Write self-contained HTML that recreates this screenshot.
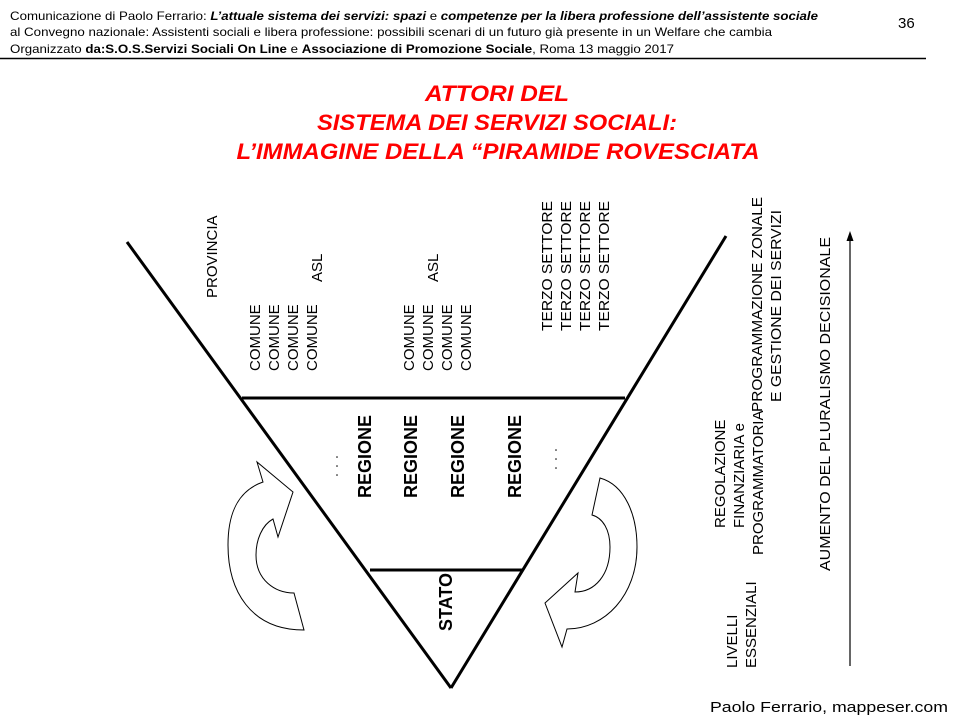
<!DOCTYPE html>
<html><head><meta charset="utf-8"><style>
html,body{margin:0;padding:0;background:#fff;}
svg{display:block;}
text{font-family:"Liberation Sans",Arial,sans-serif;}
</style></head><body>
<svg width="960" height="720" viewBox="0 0 960 720" xmlns="http://www.w3.org/2000/svg">
<rect width="960" height="720" fill="#fff"/>
<g font-size="12" fill="#000">
<text x="10" y="20" textLength="808" lengthAdjust="spacingAndGlyphs">Comunicazione di Paolo Ferrario: <tspan font-weight="bold" font-style="italic">L’attuale sistema  dei servizi: spazi</tspan> e <tspan font-weight="bold" font-style="italic">competenze per la libera professione  dell’assistente  sociale</tspan></text>
<text x="10" y="36" textLength="762" lengthAdjust="spacingAndGlyphs">al Convegno  nazionale: Assistenti sociali e libera professione:  possibili scenari di un futuro già presente in un Welfare  che cambia</text>
<text x="10" y="53" textLength="664" lengthAdjust="spacingAndGlyphs">Organizzato <tspan font-weight="bold">da:S.O.S.Servizi Sociali On Line</tspan> e <tspan font-weight="bold">Associazione di Promozione Sociale</tspan>, Roma 13 maggio 2017</text>
</g>
<text x="898" y="28" font-size="15">36</text>
<line x1="0" y1="58.5" x2="926" y2="58.5" stroke="#000" stroke-width="1.5"/>
<g fill="#ff0000" font-weight="bold" font-style="italic" font-size="22" text-anchor="middle">
<text x="497" y="101" textLength="144" lengthAdjust="spacingAndGlyphs">ATTORI DEL</text>
<text x="497" y="130" textLength="360" lengthAdjust="spacingAndGlyphs">SISTEMA DEI SERVIZI SOCIALI:</text>
<text x="498" y="159" textLength="523" lengthAdjust="spacingAndGlyphs">L’IMMAGINE DELLA “PIRAMIDE ROVESCIATA</text>
</g>
<g stroke="#000" stroke-width="3" fill="none">
<line x1="127" y1="242" x2="451" y2="688"/>
<line x1="726" y1="236" x2="451" y2="688"/>
<line x1="242" y1="398" x2="625" y2="398"/>
<line x1="370" y1="570" x2="522" y2="570"/>
</g>
<g stroke="#000" stroke-width="1" fill="#fff">
<path d="M304,630 C250,630 228,590 228,545 C228,510 240,490 263,482 L257,462 L293,492 L278,537 L273,519 C262,525 256,540 256,555 C256,580 275,593 294,593 Z"/>
<path d="M600,478 C625,485 637,515 637,547 C637,595 605,629 567,629 L562,647 L545,603 L578,573 L575,592 C595,592 610,575 610,547 C610,530 603,518 592,515 Z"/>
</g>
<g font-size="15" fill="#000">
<text transform="translate(217,298) rotate(-90)">PROVINCIA</text>
<text transform="translate(260,371) rotate(-90)">COMUNE</text>
<text transform="translate(279,371) rotate(-90)">COMUNE</text>
<text transform="translate(298,371) rotate(-90)">COMUNE</text>
<text transform="translate(317,371) rotate(-90)">COMUNE</text>
<text transform="translate(322,282) rotate(-90)">ASL</text>
<text transform="translate(414,371) rotate(-90)">COMUNE</text>
<text transform="translate(433,371) rotate(-90)">COMUNE</text>
<text transform="translate(452,371) rotate(-90)">COMUNE</text>
<text transform="translate(471,371) rotate(-90)">COMUNE</text>
<text transform="translate(438,282) rotate(-90)">ASL</text>
<text transform="translate(552,331) rotate(-90)" textLength="130" lengthAdjust="spacingAndGlyphs">TERZO  SETTORE</text>
<text transform="translate(571,331) rotate(-90)" textLength="130" lengthAdjust="spacingAndGlyphs">TERZO  SETTORE</text>
<text transform="translate(590,331) rotate(-90)" textLength="130" lengthAdjust="spacingAndGlyphs">TERZO  SETTORE</text>
<text transform="translate(609,331) rotate(-90)" textLength="130" lengthAdjust="spacingAndGlyphs">TERZO  SETTORE</text>
<text transform="translate(762,412) rotate(-90)" textLength="215" lengthAdjust="spacingAndGlyphs">PROGRAMMAZIONE  ZONALE</text>
<text transform="translate(781,402) rotate(-90)" textLength="192" lengthAdjust="spacingAndGlyphs">E GESTIONE  DEI SERVIZI</text>
<text transform="translate(725,528) rotate(-90)">REGOLAZIONE</text>
<text transform="translate(744,528) rotate(-90)">FINANZIARIA  e</text>
<text transform="translate(763,555) rotate(-90)">PROGRAMMATORIA</text>
<text transform="translate(737,668) rotate(-90)">LIVELLI</text>
<text transform="translate(756,668) rotate(-90)">ESSENZIALI</text>
<text transform="translate(830,571) rotate(-90)" textLength="334" lengthAdjust="spacingAndGlyphs">AUMENTO DEL PLURALISMO DECISIONALE</text>
</g>
<g font-size="18" font-weight="bold" fill="#000">
<text transform="translate(371,498) rotate(-90)">REGIONE</text>
<text transform="translate(417,498) rotate(-90)">REGIONE</text>
<text transform="translate(464,498) rotate(-90)">REGIONE</text>
<text transform="translate(521,498) rotate(-90)">REGIONE</text>
<text transform="translate(452,631) rotate(-90)">STATO</text>
</g>
<g fill="#000">
<circle cx="337" cy="457" r="0.8"/><circle cx="337" cy="466" r="0.8"/><circle cx="337" cy="475" r="0.8"/>
<circle cx="556" cy="450" r="0.8"/><circle cx="556" cy="459" r="0.8"/><circle cx="556" cy="468" r="0.8"/>
</g>
<line x1="850" y1="666" x2="850" y2="238" stroke="#000" stroke-width="1.2"/>
<polygon points="850,231 846.5,241 853.5,241" fill="#000"/>
<text x="710" y="712" font-family="'DejaVu Sans',sans-serif" font-size="15" fill="#000" textLength="238" lengthAdjust="spacingAndGlyphs">Paolo Ferrario, mappeser.com</text>
</svg>
</body></html>
